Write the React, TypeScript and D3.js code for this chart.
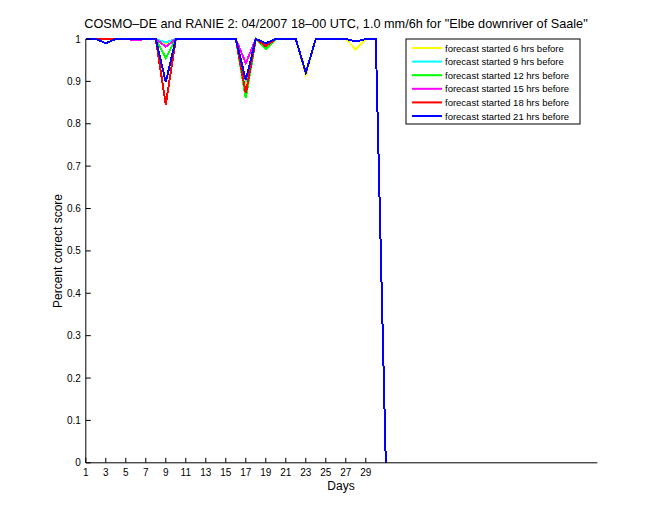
import React from "react";
import * as d3 from "d3";

const days = d3.range(1, 32);
const seriesNames = [
  "forecast started 6 hrs before",
  "forecast started 9 hrs before",
  "forecast started 12 hrs before",
  "forecast started 15 hrs before",
  "forecast started 18 hrs before",
  "forecast started 21 hrs before",
];
const seriesColors = ["#ffff00", "#00ffff", "#00ff00", "#ff00ff", "#ff0000", "#0000ff"];

// day:      1  2  3     4  5  6      7  8  9      10 11 12 13 14 15 16 17    18 19     20 21 22 23    24 25 26 27 28     29 30 31
const s6 =  [1, 1, 1,    1, 1, 1,     1, 1, 0.99,  1, 1, 1, 1, 1, 1, 1, 0.89, 1, 0.985, 1, 1, 1, 0.915, 1, 1, 1, 1, 0.975, 1, 1, 0];
const s9 =  [1, 1, 1,    1, 1, 1,     1, 1, 0.992, 1, 1, 1, 1, 1, 1, 1, 0.9,  1, 0.985, 1, 1, 1, 0.92,  1, 1, 1, 1, 0.994, 1, 1, 0];
const s12 = [1, 1, 1,    1, 1, 1,     1, 1, 0.955, 1, 1, 1, 1, 1, 1, 1, 0.86, 1, 0.976, 1, 1, 1, 0.92,  1, 1, 1, 1, 0.994, 1, 1, 0];
const s15 = [1, 1, 1,    1, 1, 0.997, 1, 1, 0.982, 1, 1, 1, 1, 1, 1, 1, 0.943,1, 0.985, 1, 1, 1, 0.92,  1, 1, 1, 1, 0.994, 1, 1, 0];
const s18 = [1, 1, 1,    1, 1, 1,     1, 1, 0.845, 1, 1, 1, 1, 1, 1, 1, 0.872,1, 0.983, 1, 1, 1, 0.92,  1, 1, 1, 1, 0.994, 1, 1, 0];
const s21 = [1, 1, 0.99, 1, 1, 1,     1, 1, 0.898, 1, 1, 1, 1, 1, 1, 1, 0.903,1, 0.99,  1, 1, 1, 0.921, 1, 1, 1, 1, 0.994, 1, 1, 0];
const allSeries = [s6, s9, s12, s15, s18, s21];

const xTicks = d3.range(1, 30, 2);
const yTicks = d3.range(0, 11).map((v) => v / 10);

const W = 660;
const H = 520;
const left = 85.8;
const right = 597.3;
const top = 39;
const bottom = 462.8;
const FONT = "'Liberation Sans', Arial, Helvetica, sans-serif";

export default function App() {
  const x = d3.scaleLinear().domain([1, 52.15]).range([left, right]);
  const y = d3.scaleLinear().domain([0, 1]).range([bottom, top]);
  const line = d3
    .line<number>()
    .x((_, i) => x(days[i]))
    .y((d) => y(d));

  const legX = 406;
  const legY = 39;
  const legW = 174;
  const legH = 85;

  return (
    <svg width={W} height={H} style={{ position: "absolute", left: 0, top: 0, background: "#fff" }} fontFamily={FONT}>
      <rect x={0} y={0} width={W} height={H} fill="#fff" />
      <text x={336} y={28} textAnchor="middle" fontSize={12.7} fill="#000">
        COSMO–DE and RANIE 2: 04/2007 18–00 UTC, 1.0 mm/6h for "Elbe downriver of Saale"
      </text>
      {allSeries.map((s, k) => (
        <path key={k} d={line(s) || ""} fill="none" stroke={seriesColors[k]} strokeWidth={2} shapeRendering="crispEdges" />
      ))}
      {/* axes */}
      <line x1={left} x2={left} y1={top} y2={bottom} stroke="#000" strokeWidth={1} />
      <line x1={left} x2={right} y1={bottom} y2={bottom} stroke="#000" strokeWidth={1} />
      {yTicks.map((t) => (
        <g key={t}>
          <line x1={left} x2={left + 5} y1={y(t)} y2={y(t)} stroke="#000" />
          <text x={left - 5} y={y(t) + 3.5} textAnchor="end" fontSize={10}>
            {t === 0 ? "0" : t === 1 ? "1" : t.toFixed(1)}
          </text>
        </g>
      ))}
      {xTicks.map((t) => (
        <g key={t}>
          <line x1={x(t)} x2={x(t)} y1={bottom} y2={bottom - 5} stroke="#000" />
          <text x={x(t)} y={bottom + 13} textAnchor="middle" fontSize={10}>
            {t}
          </text>
        </g>
      ))}
      <text x={341} y={490} textAnchor="middle" fontSize={12}>
        Days
      </text>
      <text transform={`translate(62,251) rotate(-90)`} textAnchor="middle" fontSize={12}>
        Percent correct score
      </text>
      {/* legend */}
      <rect x={legX} y={legY} width={legW} height={legH} fill="#fff" stroke="#000" strokeWidth={1} />
      {seriesNames.map((n, i) => {
        const ly = legY + 9 + i * 13.6;
        return (
          <g key={n}>
            <line x1={legX + 6} x2={legX + 36} y1={ly} y2={ly} stroke={seriesColors[i]} strokeWidth={2} />
            <text x={legX + 39} y={ly + 3.5} fontSize={9.5}>
              {n}
            </text>
          </g>
        );
      })}
    </svg>
  );
}
